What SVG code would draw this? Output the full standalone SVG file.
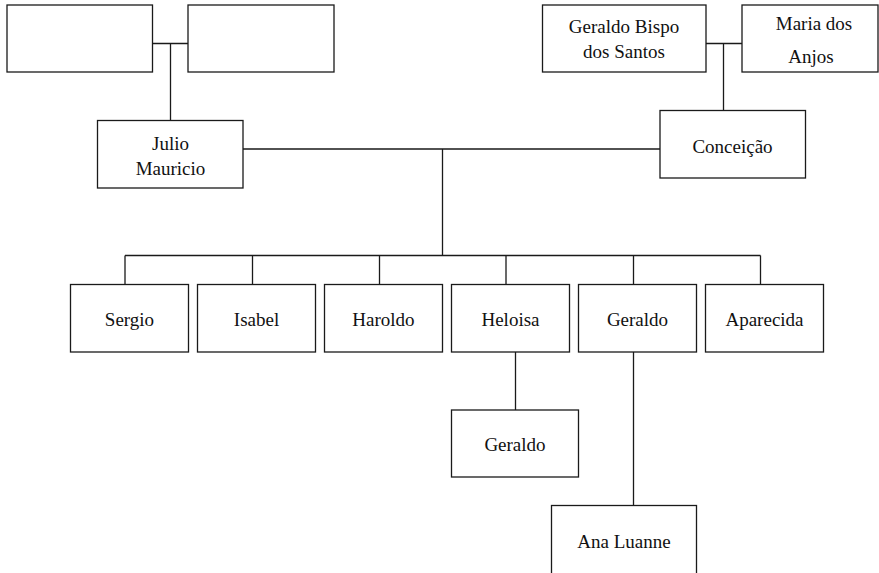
<svg xmlns="http://www.w3.org/2000/svg" width="879" height="573" viewBox="0 0 879 573">
<style>
rect{fill:#fff;stroke:#1a1a1a;stroke-width:1.3}
.c path{fill:none;stroke:#1a1a1a;stroke-width:1.3}
</style>
<rect x="0" y="0" width="879" height="573" style="stroke:none"/>
<g class="c" id="connectors">
<path d="M152.5 43.5H188M170.5 43.5V120"/>
<path d="M706 43.5H742M723.5 43.5V110"/>
<path d="M243 149H660M442.5 149V255.5"/>
<path d="M125 255.5H760.5M125 255.5V284.5M252.5 255.5V284.5M379.5 255.5V284.5M506 255.5V284.5M633.5 255.5V284.5M760.5 255.5V284.5"/>
<path d="M515.5 352V410"/>
<path d="M633.5 352V505.5"/>
</g>
<g font-family="Liberation Serif, Times New Roman, serif" font-size="19" fill="#111" text-anchor="middle">
<g id="n1"><rect x="7" y="5" width="145.5" height="67"/></g>
<g id="n2"><rect x="188" y="5" width="146" height="67"/></g>
<g id="geraldo-bispo"><rect x="542.5" y="5" width="163.5" height="67"/><text x="624" y="33">Geraldo Bispo</text><text x="624" y="58">dos Santos</text></g>
<g id="maria"><rect x="742" y="5" width="136" height="67"/><text x="814" y="30">Maria dos</text><text x="811" y="63">Anjos</text></g>
<g id="julio"><rect x="97.5" y="120.5" width="145.5" height="67.5"/><text x="170.5" y="150">Julio</text><text x="170.5" y="175">Mauricio</text></g>
<g id="conceicao"><rect x="660" y="110.5" width="145.5" height="67.5"/><text x="732.5" y="153">Conceição</text></g>
<g id="sergio"><rect x="70.5" y="284.5" width="118" height="67.5"/><text x="129.5" y="326">Sergio</text></g>
<g id="isabel"><rect x="197.5" y="284.5" width="118" height="67.5"/><text x="256.5" y="326">Isabel</text></g>
<g id="haroldo"><rect x="324.5" y="284.5" width="118" height="67.5"/><text x="383.5" y="326">Haroldo</text></g>
<g id="heloisa"><rect x="451.5" y="284.5" width="118" height="67.5"/><text x="510.5" y="326">Heloisa</text></g>
<g id="geraldo"><rect x="578.5" y="284.5" width="118" height="67.5"/><text x="637.5" y="326">Geraldo</text></g>
<g id="aparecida"><rect x="705.5" y="284.5" width="118" height="67.5"/><text x="764.5" y="326">Aparecida</text></g>
<g id="geraldo2"><rect x="451.5" y="410" width="127" height="67"/><text x="515" y="451">Geraldo</text></g>
<g id="ana"><rect x="551.5" y="505.5" width="145" height="70"/><text x="624" y="548">Ana Luanne</text></g>
</g>
</svg>
